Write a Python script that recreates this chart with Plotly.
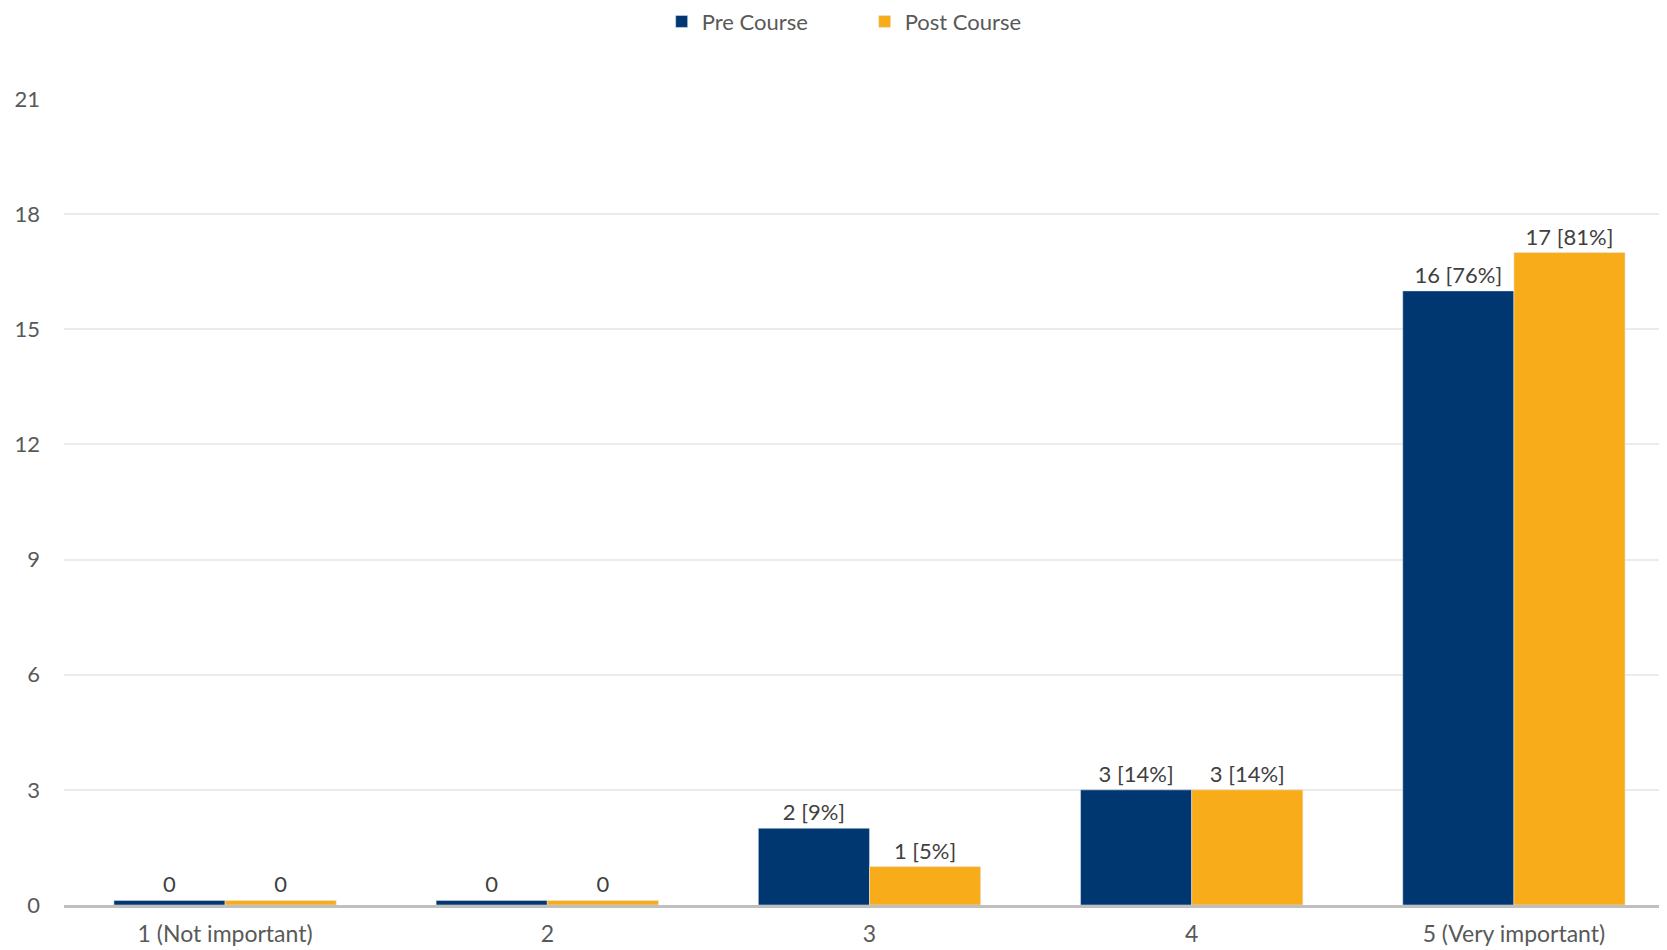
import plotly.graph_objects as go

categories = ["1 (Not important)", "2", "3", "4", "5 (Very important)"]
pre_values = [0, 0, 2, 3, 16]
post_values = [0, 0, 1, 3, 17]
pre_pct = [None, None, 9, 14, 76]
post_pct = [None, None, 5, 14, 81]
y_ticks = [0, 3, 6, 9, 12, 15, 18, 21]

NAVY = "#003771"
GOLD = "#F9AC1A"
TXT = "#595959"
FONT = "Lato"

def labels(vals, pcts):
    return [f"{v}" if p is None else f"{v} [{p}%]" for v, p in zip(vals, pcts)]

def shown(vals):
    # zero-valued bars are drawn as a thin sliver, as in the reference
    return [v if v > 0 else 0.12 for v in vals]

fig = go.Figure()
fig.add_trace(go.Bar(x=categories, y=shown(pre_values), name="Pre Course",
                     marker_color=NAVY, text=labels(pre_values, pre_pct),
                     textposition="outside", cliponaxis=False,
                     textfont=dict(family=FONT, size=22, color="#404040")))
fig.add_trace(go.Bar(x=categories, y=shown(post_values), name="Post Course",
                     marker_color=GOLD, text=labels(post_values, post_pct),
                     textposition="outside", cliponaxis=False,
                     textfont=dict(family=FONT, size=22, color="#404040")))

fig.update_layout(
    width=1667, height=942,
    margin=dict(l=56, r=0, t=91, b=45, autoexpand=False),
    paper_bgcolor="white", plot_bgcolor="white",
    barmode="group", bargap=0.31, bargroupgap=0,
    font=dict(family=FONT, size=22, color=TXT),
    legend=dict(orientation="h", x=0.497, xanchor="center", y=1.096, yref="paper",
                yanchor="middle", font=dict(family=FONT, size=22, color=TXT),
                itemwidth=30, entrywidth=158),
    showlegend=True,
)
fig.update_yaxes(range=[0, 21], tickvals=y_ticks, showgrid=True, gridcolor="#EBEBEB",
                 gridwidth=1.5, zeroline=False, showline=False, automargin=False,
                 ticklabelstandoff=23, tickfont=dict(family=FONT, size=22, color=TXT))
fig.update_xaxes(showline=True, linecolor="#BFBFBF", linewidth=3, ticks="",
                 automargin=False,
                 ticklabelstandoff=6, tickfont=dict(family=FONT, size=23, color=TXT))

fig.write_html("out.html")
